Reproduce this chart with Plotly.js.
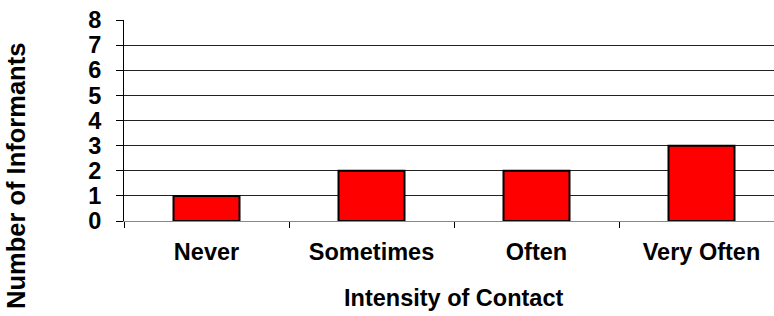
<!DOCTYPE html>
<html>
<head>
<meta charset="utf-8">
<script src="https://cdn.plot.ly/plotly-3.0.1.min.js"></script>
<style>html,body{margin:0;padding:0;background:#fff;}#chart{width:774px;height:316px;}</style>
</head>
<body>
<div id="chart"></div>
<script>
const categories = ["Never", "Sometimes", "Often", "Very Often"];
const informants = [1, 2, 2, 3];
const yTicks = [0, 1, 2, 3, 4, 5, 6, 7, 8];
const gridTicks = [1, 2, 3, 4, 5, 6, 7];
const xTitle = "Intensity of Contact";
const yTitle = "Number of Informants";

const fontFam = "'Liberation Sans', Arial, sans-serif";
const trace = {
  type: "bar",
  x: categories,
  y: informants,
  width: 0.4,
  marker: { color: "#FF0000", line: { color: "#000000", width: 2 } },
  hoverinfo: "none"
};
const gridTrace = { type: "scatter", x: [categories[0]], y: [0], yaxis: "y2", mode: "none", showlegend: false, hoverinfo: "none" };

const layout = {
  width: 774, height: 316,
  margin: { l: 124, r: 0, t: 20, b: 95, pad: 0 },
  paper_bgcolor: "#ffffff", plot_bgcolor: "#ffffff",
  showlegend: false,
  font: { family: fontFam, size: 24, color: "#000", weight: "bold" },
  xaxis: {
    type: "category",
    range: [-0.5, -0.5 + 650 / 165],
    tickson: "boundaries",
    ticks: "outside", ticklen: 6, tickcolor: "#000", tickwidth: 1,
    showline: true, linecolor: "#888", linewidth: 1,
    showgrid: false, zeroline: false,
    tickfont: { family: fontFam, size: 23.5, color: "#000", weight: "bold" },
    ticklabelstandoff: 10,
    fixedrange: true
  },
  yaxis: {
    range: [0, 8],
    tickvals: yTicks,
    ticks: "outside", ticklen: 7, tickcolor: "#000", tickwidth: 1,
    showline: true, linecolor: "#000", linewidth: 1,
    showgrid: false, zeroline: false,
    tickfont: { family: fontFam, size: 23.5, color: "#000", weight: "bold" },
    ticklabelstandoff: 10,
    fixedrange: true
  },
  yaxis2: {
    overlaying: "y", side: "left",
    range: [0, 8],
    tickvals: gridTicks,
    showticklabels: false, ticks: "",
    showgrid: true, gridcolor: "#222", gridwidth: 1,
    showline: false, zeroline: false,
    fixedrange: true
  },
  annotations: [
    { text: xTitle, xref: "x", x: 1.5, yref: "paper", y: -0.31, xanchor: "center", yanchor: "top",
      showarrow: false, font: { family: fontFam, size: 23.5, color: "#000", weight: "bold" } },
    { text: yTitle, xref: "paper", x: (16 - 124) / 650, yref: "paper", y: (221 - 176) / 201,
      xanchor: "center", yanchor: "middle", textangle: -90,
      showarrow: false, font: { family: fontFam, size: 25.5, color: "#000", weight: "bold" } }
  ]
};

Plotly.newPlot("chart", [gridTrace, trace], layout, { staticPlot: true, displayModeBar: false });
</script>
</body>
</html>
